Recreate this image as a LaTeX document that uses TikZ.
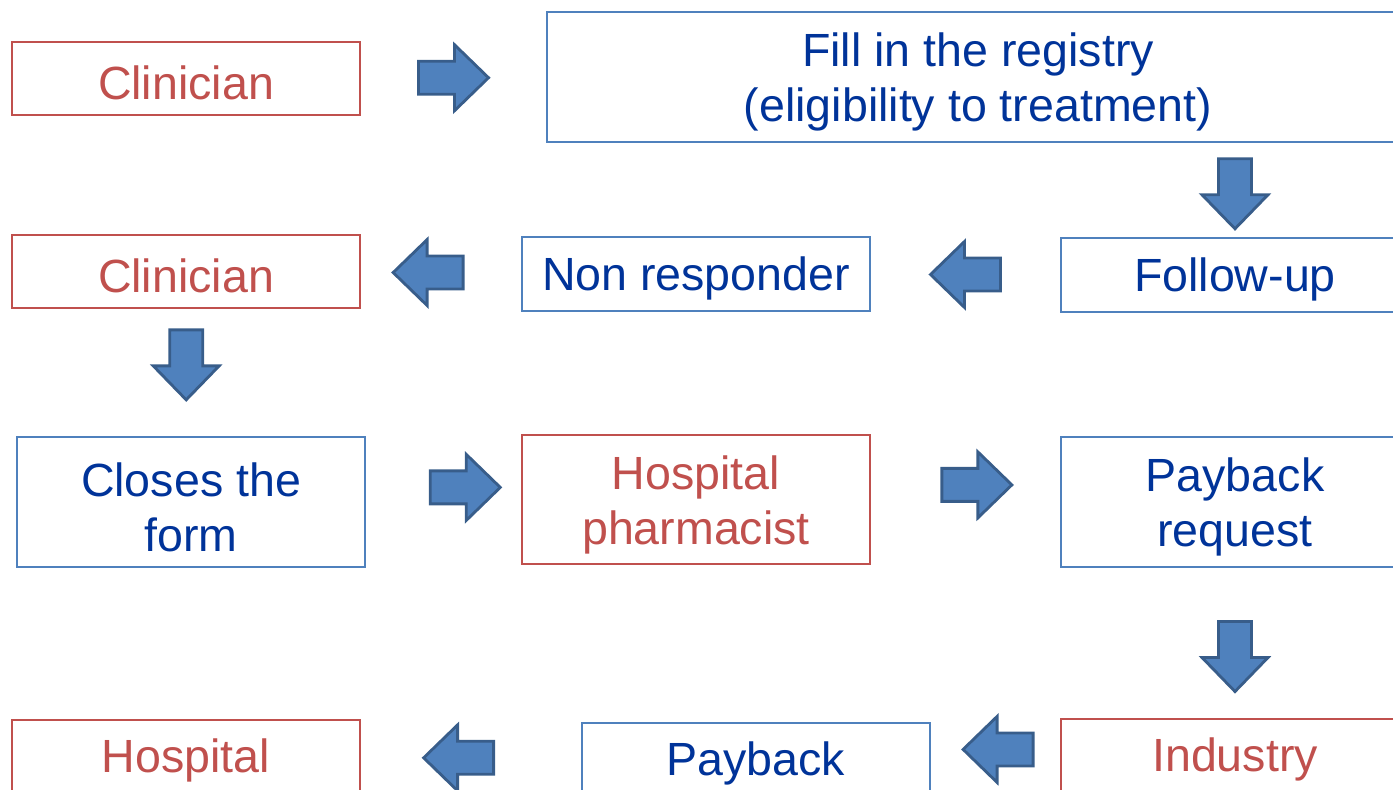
\documentclass[tikz,border=0pt]{standalone}
\usepackage{fontspec}
\setmainfont{Liberation Sans}
\usetikzlibrary{calc}

\definecolor{redline}{HTML}{C0504D}
\definecolor{blueline}{HTML}{4F81BD}
\definecolor{bluetext}{HTML}{003399}
\definecolor{arrowline}{HTML}{385D8A}

\tikzset{
    box/.style={draw, line width=0.8pt, align=center, inner sep=0pt,
        minimum width=6.96cm, minimum height=1.46cm,
        font=\fontsize{26.5}{31.4}\selectfont,
        execute at begin node={\rule{0pt}{0.9em}}},
    actor/.style={box, draw=redline, text=redline},
    task/.style={box, draw=blueline, text=bluetext},
    tall/.style={minimum height=2.6cm,
        execute at begin node={\rule{0pt}{\dimexpr31.4pt+0.95em\relax}}},
    pics/barrow/.style={code={
        \draw[line width=1.6pt, draw=arrowline, fill=blueline, line join=miter]
            (-35,-16.5) -- (1,-16.5) -- (1,-33) -- (35,0) -- (1,33) -- (1,16.5)
            -- (-35,16.5) -- cycle;
    }}
}

\begin{document}
\begin{tikzpicture}[x=0.02cm, y=-0.02cm]
            % the frame
            \useasboundingbox (0,0) rectangle (1393,790);
            \clip (0,0) rectangle (1393,790);

            % first row
            \node[actor] (clin1) at (186,78.5) {Clinician};
            \node[task, tall, minimum width=17.24cm] (reg) at (978,77)
                {Fill in the registry\\(eligibility to treatment)};

            % second row
            \node[task, minimum height=1.48cm] (fu) at (1235,275) {Follow-up};
            \node[task, minimum height=1.48cm] (nonr) at (696,274) {Non responder};
            \node[actor] (clin2) at (186,271.5) {Clinician};

            % third row
            \node[task, tall] (close) at (191,502) {Closes the\\form};
            \node[actor, tall, minimum height=2.58cm] (pharm) at (696,499.5)
                {Hospital\\pharmacist};
            \node[task, tall] (prq) at (1235,502) {Payback\\request};

            % fourth row
            \node[actor] (ind) at (1235,755.5) {Industry};
            \node[task] (pay) at (756,759.5) {Payback};
            \node[actor] (hosp) at (186,756.5) {Hospital};

            % the arrows
            \pic at ($(clin1.east)!.5!(reg.west)$) {barrow};
            \pic[rotate=-90] at ($(reg.south -| fu.north)!.54!(fu.north)$) {barrow};
            \pic[rotate=180] at ($(fu.west)!.5!(nonr.east)$) {barrow};
            \pic[rotate=180] at ($(nonr.west)!.58!(clin2.east)$) {barrow};
            \pic[rotate=-90] at ($(clin2.south)!.44!(close.north) + (-2,0)$) {barrow};
            \pic at ($(close.east)!.64!(pharm.west) + (0,-13)$) {barrow};
            \pic at ($(pharm.east)!.56!(prq.west) + (0,-16)$) {barrow};
            \pic[rotate=-90] at ($(prq.south)!.59!(ind.north)$) {barrow};
            \pic[rotate=180] at ($(ind.west)!.48!(pay.east) + (0,-8)$) {barrow};
            \pic[rotate=180] at ($(pay.west)!.556!(hosp.east)$) {barrow};
\end{tikzpicture}
\end{document}
